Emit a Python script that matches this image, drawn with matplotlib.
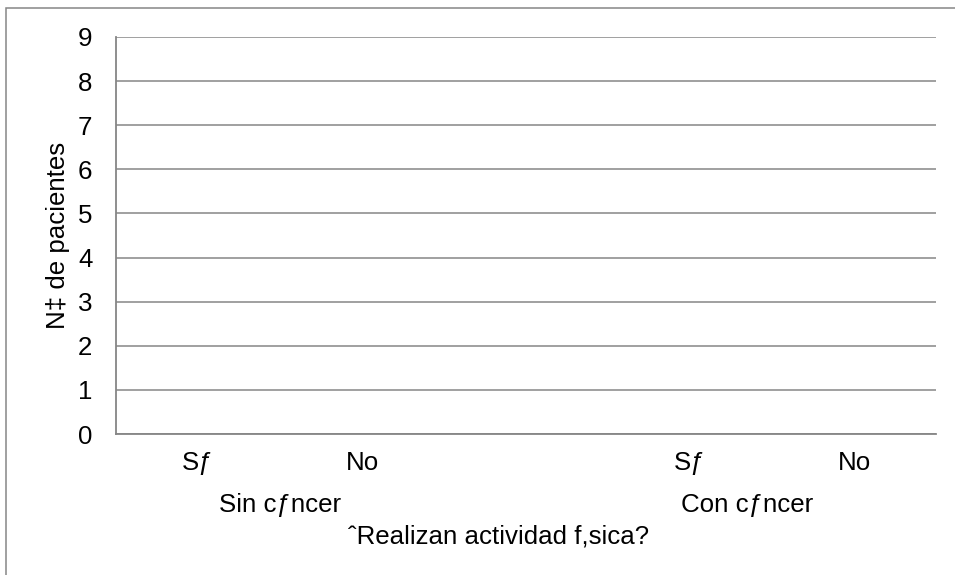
import matplotlib
matplotlib.use("Agg")
import matplotlib.pyplot as plt
from matplotlib.patches import Rectangle

plt.rcParams['font.family'] = ['Liberation Sans', 'DejaVu Sans']

# datos (texto tal como aparece en la figura original)
categorias = ["Sƒ", "No", "", "Sƒ", "No"]
pacientes = [0, 0, 0, 0, 0]
grupos = ["Sin cƒncer", "Con cƒncer"]
grupo_x = [0.5, 3.35]
y_ticks = list(range(0, 10))

gris = '#868686'
fs = 18.6

fig = plt.figure(figsize=(9.55, 5.75), dpi=100)
ax = fig.add_axes([116 / 955, 141 / 575, 820 / 955, 397 / 575])

x = list(range(len(categorias)))
ax.bar(x, pacientes, width=0.6, color='#4f81bd')

ax.set_xlim(-0.5, len(categorias) - 0.5)
ax.set_ylim(0, 9)
ax.set_yticks(y_ticks)
ax.set_xticks(x)
ax.set_xticklabels(categorias)

ax.grid(axis='y', color=gris, linewidth=1.1)
ax.set_axisbelow(True)
for lado in ['top', 'right']:
    ax.spines[lado].set_visible(False)
for lado in ['left', 'bottom']:
    ax.spines[lado].set_color(gris)
    ax.spines[lado].set_linewidth(1.3)

ax.tick_params(axis='both', length=0, labelsize=fs, colors='black')
ax.tick_params(axis='y', pad=17)
ax.tick_params(axis='x', pad=12.5)

ax.set_ylabel("N‡ de pacientes", fontsize=fs)
ax.yaxis.label.set_va('center')
ax.yaxis.set_label_coords(-0.0707, 0.5)

tr = ax.get_xaxis_transform()
for gx, g in zip(grupo_x, grupos):
    ax.text(gx, -0.179, g, transform=tr, ha='center', va='center', fontsize=fs)
ax.text(1.83, -0.259, "ˆRealizan actividad f,sica?", transform=tr,
        ha='center', va='center', fontsize=fs)

# marco exterior del gráfico
fig.patches.append(Rectangle((6 / 955, -0.1), 1.2, 1 - 8 / 575 + 0.1,
                             transform=fig.transFigure, fill=False,
                             edgecolor=gris, linewidth=1.1))

fig.savefig("out.png", dpi=100)
